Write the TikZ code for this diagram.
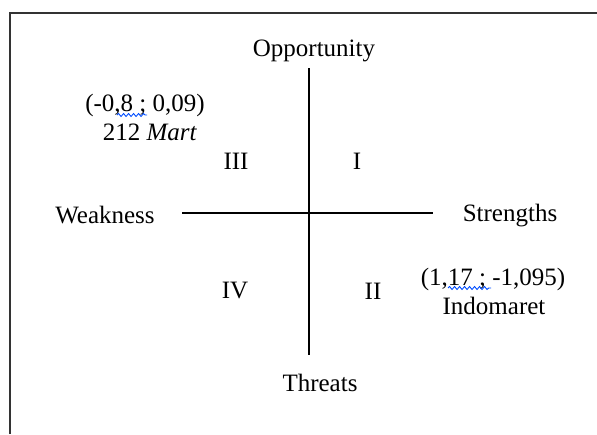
\documentclass[tikz,border=0pt]{standalone}
\usepackage{fontspec}
\setmainfont{Liberation Serif}
\usetikzlibrary{decorations.pathmorphing}
\begin{document}
\begin{tikzpicture}[x=1pt,y=-1pt,
  lbl/.style={inner sep=0pt,font=\fontsize{25}{28}\selectfont},
  axis/.style={line width=1.3pt,black},
  frame/.style={line width=2pt,black!80},
  squig/.style={blue!70!cyan,line width=0.9pt,decorate,decoration={snake,amplitude=1.5pt,segment length=5pt}}]
\useasboundingbox (0,0) rectangle (597,434);
\draw[frame] (10,434) -- (10,13) -- (597,13);
% axes
\coordinate (vt) at (309,68);
\coordinate (vb) at (309,355);
\coordinate (hl) at (182,213);
\coordinate (hr) at (433,213);
\draw[axis] (vt) -- (vb);
\draw[axis] (hl) -- (hr);
% labels
\node[lbl] (opp) at (314,51) {Opportunity};
\node[lbl] (thr) at (320,383) {Threats};
\node[lbl] (weak) at (105,215) {Weakness};
\node[lbl] (str) at (510,216) {Strengths};
\node[lbl] (q3) at (236,161) {III};
\node[lbl] (q1) at (357,161) {I};
\node[lbl] (q4) at (235,291) {IV};
\node[lbl] (q2) at (373,291) {II};
\node[lbl] (c1) at (145,105) {(-0,8 ; 0,09)};
\node[lbl] (m1) at (150,132) {212 \textit{Mart}};
\node[lbl] (c2) at (493,279) {(1,17 ; -1,095)};
\node[lbl] (m2) at (494,306) {Indomaret};
% spelling squiggles
\coordinate (s1a) at (117,115);
\coordinate (s1b) at (147,115);
\coordinate (s2a) at (448,288);
\coordinate (s2b) at (491,288);
\draw[squig] (s1a) -- (s1b);
\draw[squig] (s2a) -- (s2b);
\end{tikzpicture}
\end{document}
